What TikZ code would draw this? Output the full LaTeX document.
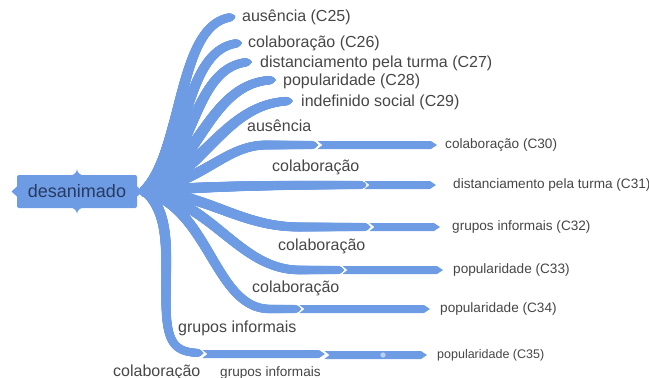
\documentclass[tikz,border=0pt]{standalone}
\usepackage{fontspec}
\setmainfont{Liberation Sans}
\usetikzlibrary{decorations.markings}
\definecolor{brc}{RGB}{110,156,228}
\definecolor{txt}{RGB}{70,70,70}
\definecolor{roottxt}{RGB}{38,58,98}
\definecolor{dotc}{RGB}{190,208,242}
\tikzset{
  taper/.style n args={2}{decorate, decoration={markings,
    mark=between positions 0 and 1 step 0.4pt with {%
      \pgfmathsetmacro\rr{max(0.05,min(#1-(#1-#2)*\pgfkeysvalueof{/pgf/decoration/mark info/distance from start}/\pgfdecoratedpathlength,0.65*(\pgfdecoratedpathlength-\pgfkeysvalueof{/pgf/decoration/mark info/distance from start})))}%
      \fill[brc] (0,0) circle[radius=\rr pt];}}},
  lblbig/.style={anchor=west, inner sep=0pt, text=txt, font=\fontsize{16}{18}\selectfont, text height=11.5pt, text depth=3.4pt},
  lblsmall/.style={anchor=west, inner sep=0pt, text=txt, font=\fontsize{13.6}{15}\selectfont, text height=9.8pt, text depth=2.9pt},
  lbltiny/.style={anchor=west, inner sep=0pt, text=txt, font=\fontsize{12.5}{14}\selectfont, text height=9pt, text depth=2.7pt},
  rootbox/.style={fill=brc, rounded corners=2pt, minimum width=120pt, minimum height=33pt, inner sep=0pt, text=roottxt, font=\fontsize{18}{20}\selectfont}
}
\newcommand\bseg[3]{\fill[brc] (#1,#3-4) -- (#2-6,#3-4) -- (#2,#3) -- (#2-6,#3+4) -- (#1,#3+4) -- (#1+5,#3) -- cycle;}
\begin{document}
\begin{tikzpicture}[x=1pt,y=-1pt]
\useasboundingbox (0,0) rectangle (649,378);
% root
\node[rootbox] (root) at (77,191.5) {desanimado};
\fill[brc] (17.5,186) -- (11.5,191.5) -- (17.5,197) -- cycle;
\fill[brc] (136.5,186) -- (143,191.5) -- (136.5,197) -- cycle;
\fill[brc] (70,175.5) .. controls (74,175.5) and (77,172) .. (77,169) .. controls (77,172) and (80,175.5) .. (84,175.5) -- cycle;
\fill[brc] (70,207.5) .. controls (74,207.5) and (77,211) .. (77,214) .. controls (77,211) and (80,207.5) .. (84,207.5) -- cycle;
\coordinate (hub) at (146,191);
% tips
\coordinate (t25) at (234,17);
\coordinate (t26) at (241,43);
\coordinate (t27) at (251,62);
\coordinate (t28) at (275,80);
\coordinate (t29) at (292,101);
\coordinate (t30) at (318,145);
\coordinate (t31) at (365,185);
\coordinate (t32) at (370,227);
\coordinate (t33) at (343,270);
\coordinate (t34) at (300,309);
\coordinate (t35) at (203,353);
% upper branches
\path[taper={6.5}{4.2}] (hub) .. controls (185,150) and (176,20) .. (t25);
\path[taper={6.5}{4.2}] (hub) .. controls (190,155) and (183,45) .. (t26);
\path[taper={6.5}{4.2}] (hub) .. controls (195,160) and (193,63) .. (t27);
\path[taper={6.5}{4.2}] (hub) .. controls (200,165) and (210,80) .. (t28);
\path[taper={6.5}{4.2}] (hub) .. controls (205,172) and (226,101) .. (t29);
% right branches
\path[taper={5.5}{4}] (hub) .. controls (205,180) and (225,146) .. (265,145) -- (t30);
\path[taper={5.5}{4}] (hub) .. controls (200,187) and (250,185) .. (t31);
\path[taper={5.5}{4}] (hub) .. controls (210,195) and (240,227) .. (300,227) -- (t32);
\path[taper={5.5}{4}] (hub) .. controls (215,205) and (240,270) .. (300,270) -- (t33);
\path[taper={5.5}{4}] (hub) .. controls (210,210) and (215,309) .. (270,309) -- (t34);
\path[taper={5.5}{4}] (hub) .. controls (170,215) and (166,250) .. (166,300) .. controls (166,345) and (175,353) .. (t35);
% straight segments
\bseg{317.5}{437}{145}
\bseg{364.5}{436}{185}
\bseg{369.5}{440}{227}
\bseg{342.5}{443}{270}
\bseg{299.5}{430}{309}
\bseg{202.5}{325}{354}
\bseg{324.5}{427}{355}
\fill[dotc] (383,355) circle[radius=2.6pt];
% leaf labels
\node[lblbig] (c25) at (242,17) {ausência (C25)};
\node[lblbig] (c26) at (248,43) {colaboração (C26)};
\node[lblbig] (c27) at (260,63) {distanciamento pela turma (C27)};
\node[lblbig] (c28) at (283,81) {popularidade (C28)};
\node[lblbig] (c29) at (301,102) {indefinido social (C29)};
\node[lblsmall] (c30) at (445,145) {colaboração (C30)};
\node[lblsmall] (c31) at (453,185) {distanciamento pela turma (C31)};
\node[lblsmall] (c32) at (452,227) {grupos informais (C32)};
\node[lblsmall] (c33) at (453,270) {popularidade (C33)};
\node[lblsmall] (c34) at (440,309) {popularidade (C34)};
\node[lbltiny] (c35) at (437,355) {popularidade (C35)};
% branch labels
\node[lblbig] (l1) at (247,127) {ausência};
\node[lblbig] (l2) at (272,167) {colaboração};
\node[lblbig] (l3) at (278,246) {colaboração};
\node[lblbig] (l4) at (252,288) {colaboração};
\node[lblbig] (l5) at (178,328) {grupos informais};
\node[lblbig] (l6) at (113,372) {colaboração};
\node[lblsmall] (l7) at (220,373) {grupos informais};
\end{tikzpicture}
\end{document}
